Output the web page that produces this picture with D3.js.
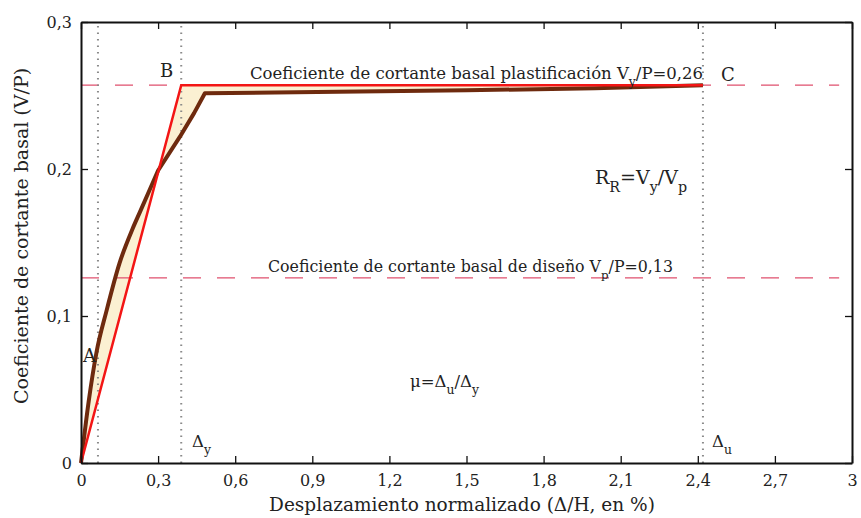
<!DOCTYPE html>
<html><head><meta charset="utf-8">
<script src="https://cdn.jsdelivr.net/npm/d3@7/dist/d3.min.js"></script>
<style>
body{margin:0;background:#fff;}
text{font-family:"DejaVu Serif","Liberation Serif",serif;fill:#222;}
</style></head>
<body><svg id="c" width="861" height="518"></svg>
<script>
// Data
const xTicks = [0,0.3,0.6,0.9,1.2,1.5,1.8,2.1,2.4,2.7,3];
const yTicks = [0,0.1,0.2,0.3];
const bilinearX = [0, 0.39, 2.42];
const bilinearY = [0, 0.257, 0.257];
const curveX = [0, 0.03, 0.06, 0.1, 0.15, 0.2, 0.23, 0.3, 0.385, 0.44, 0.482, 1.0, 1.5, 2.0, 2.42];
const curveY = [0, 0.042, 0.075, 0.104, 0.136, 0.159, 0.171, 0.199, 0.222, 0.238, 0.2515, 0.2525, 0.2535, 0.255, 0.257];
const refLevels = [0.257, 0.126];
const dottedX = [0.066, 0.39, 2.42];

const svg = d3.select("#c");
const L=81,R=852,T=22,B=463;
const x = d3.scaleLinear().domain([0,3]).range([L,R]);
const y = d3.scaleLinear().domain([0,0.3]).range([B,T]);
const fmt = v => String(+v.toFixed(1)).replace(".", ",");

const red = bilinearX.map((v,i)=>[v,bilinearY[i]]);
const brown = curveX.map((v,i)=>[v,curveY[i]]);
// smooth elastic branch (monotone) + straight segments after
const split = curveX.indexOf(0.3);
const smoothPart = d3.line().x(d=>x(d[0])).y(d=>y(d[1])).curve(d3.curveMonotoneX)(brown.slice(0, split+1));
const brownPath = smoothPart + brown.slice(split+1).map(d=>`L${x(d[0])},${y(d[1])}`).join("");

// fill between curves
const fillPath = brownPath + red.slice().reverse().map(d=>`L${x(d[0])},${y(d[1])}`).join("") + "Z";
svg.append("path").attr("d", fillPath).attr("fill","#fbf0d2").attr("stroke","none");

// dashed reference lines
svg.selectAll(".ref").data(refLevels).enter().append("line")
  .attr("x1",x(0)).attr("x2",x(2.95)).attr("y1",d=>y(d)).attr("y2",d=>y(d))
  .attr("stroke","#e0506e").attr("stroke-width",1.2).attr("stroke-dasharray","18,16");

// dotted verticals
svg.selectAll(".dot").data(dottedX).enter().append("line")
  .attr("x1",d=>x(d)).attr("x2",d=>x(d)).attr("y1",y(0)).attr("y2",y(0.3))
  .attr("stroke","#8a8a8a").attr("stroke-width",2).attr("stroke-dasharray","1.5,5");

// curves
svg.append("path").attr("d", brownPath)
  .attr("fill","none").attr("stroke","#6e2a0e").attr("stroke-width",4).attr("stroke-linejoin","round");
svg.append("path").attr("d", d3.line().x(d=>x(d[0])).y(d=>y(d[1]))(red))
  .attr("fill","none").attr("stroke","#f31515").attr("stroke-width",2.5);

// axes
const tl = 7;
svg.append("g").attr("transform",`translate(0,${B})`)
  .call(d3.axisBottom(x).tickValues(xTicks).tickFormat(fmt).tickSizeInner(-tl).tickSizeOuter(0).tickPadding(12));
svg.append("g").attr("transform",`translate(0,${T})`)
  .call(d3.axisTop(x).tickValues(xTicks).tickFormat("").tickSizeInner(-tl).tickSizeOuter(0));
svg.append("g").attr("transform",`translate(${L},0)`)
  .call(d3.axisLeft(y).tickValues(yTicks).tickFormat(fmt).tickSizeInner(-tl).tickSizeOuter(0).tickPadding(9));
svg.append("g").attr("transform",`translate(${R},0)`)
  .call(d3.axisRight(y).tickValues(yTicks).tickFormat("").tickSizeInner(-tl).tickSizeOuter(0));
svg.selectAll(".domain").attr("stroke","#111").attr("stroke-width",2);
svg.selectAll(".tick line").attr("stroke","#111").attr("stroke-width",1.3);
svg.selectAll(".tick text").attr("font-family","DejaVu Serif, serif").attr("font-size",16).attr("fill","#333");

// axis titles
svg.append("text").attr("x",462).attr("y",511).attr("text-anchor","middle").attr("font-size",18.5)
  .text("Desplazamiento normalizado (Δ/H, en %)");
svg.append("text").attr("transform","translate(28,236) rotate(-90)").attr("text-anchor","middle").attr("font-size",19)
  .text("Coeficiente de cortante basal (V/P)");

// annotations
function sub(sel, parts, size){
  parts.forEach(p=>{
    const t = sel.append("tspan").text(p[0]);
    if(p[1]) t.attr("baseline-shift","sub").attr("font-size",size*0.75);
  });
}
const a1 = svg.append("text").attr("x",250).attr("y",79).attr("font-size",16.5);
sub(a1,[["Coeficiente de cortante basal plastificación V"],["y",1],["/P=0,26"]],16.5);
const a2 = svg.append("text").attr("x",268).attr("y",272).attr("font-size",15.8);
sub(a2,[["Coeficiente de cortante basal de diseño V"],["p",1],["/P=0,13"]],15.8);
const a3 = svg.append("text").attr("x",595).attr("y",184).attr("font-size",19);
sub(a3,[["R"],["R",1],["=V"],["y",1],["/V"],["p",1]],19);
const a4 = svg.append("text").attr("x",410).attr("y",387).attr("font-size",16.5);
sub(a4,[["μ=Δ"],["u",1],["/Δ"],["y",1]],16.5);
const a5 = svg.append("text").attr("x",192).attr("y",447).attr("font-size",16.5);
sub(a5,[["Δ"],["y",1]],16.5);
const a6 = svg.append("text").attr("x",712).attr("y",447).attr("font-size",16.5);
sub(a6,[["Δ"],["u",1]],16.5);
svg.append("text").attr("x",160).attr("y",77).attr("font-size",18).text("B");
svg.append("text").attr("x",721).attr("y",81).attr("font-size",18).text("C");
svg.append("text").attr("x",83).attr("y",362).attr("font-size",18).text("A");
</script></body></html>
